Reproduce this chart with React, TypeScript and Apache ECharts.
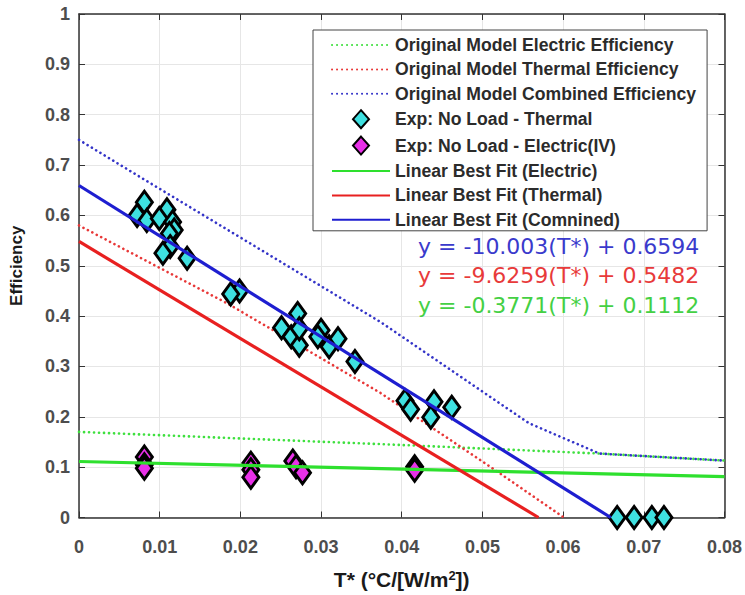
import React, { useEffect, useRef } from "react";
import * as echarts from "echarts";

const modelElectric: number[][] = [[0, 0.17], [0.04, 0.144], [0.0645, 0.127], [0.08, 0.113]];
const modelThermal: number[][] = [[0, 0.58], [0.0184, 0.425], [0.0374, 0.247], [0.0515, 0.095], [0.0601, 0]];
const modelCombined: number[][] = [[0, 0.75], [0.0077, 0.675], [0.0374, 0.388], [0.0523, 0.225], [0.0558, 0.187], [0.0645, 0.127], [0.08, 0.113]];

const expThermal: number[][] = [
  [0.0081, 0.626], [0.0072, 0.6], [0.0084, 0.59], [0.0109, 0.611], [0.00995, 0.594],
  [0.0116, 0.587], [0.0118, 0.571], [0.0112, 0.564], [0.0113, 0.538], [0.0104, 0.525],
  [0.0134, 0.515], [0.0199, 0.45], [0.0188, 0.444],
  [0.0271, 0.405], [0.0251, 0.377], [0.0263, 0.359], [0.0273, 0.342], [0.0273, 0.375],
  [0.03, 0.372], [0.0296, 0.359], [0.031, 0.339], [0.0321, 0.355], [0.0342, 0.31],
  [0.0404, 0.232], [0.0411, 0.215], [0.044, 0.23], [0.0436, 0.199], [0.0462, 0.219],
  [0.0667, 0], [0.0688, 0], [0.071, 0], [0.0725, 0],
];
const expElectric: number[][] = [
  [0.0081, 0.12], [0.0081, 0.105], [0.0081, 0.098],
  [0.0213, 0.108], [0.0213, 0.095], [0.0213, 0.08],
  [0.0265, 0.112], [0.0269, 0.101], [0.0277, 0.089],
  [0.0416, 0.101], [0.0416, 0.094],
];

const fitElectric: number[][] = [[0, 0.1112], [0.08, 0.0811]];
const fitThermal: number[][] = [[0, 0.5482], [0.05695, 0]];
const fitCombined: number[][] = [[0, 0.6594], [0.0659, 0]];

const equationTexts = [
  "y = -10.003(T*) + 0.6594",
  "y = -9.6259(T*) + 0.5482",
  "y = -0.3771(T*) + 0.1112",
];
const equationColors = ["#3a3acc", "#e83a3a", "#44d044"];

const names = [
  "Original Model Electric Efficiency",
  "Original Model Thermal Efficiency",
  "Original Model Combined Efficiency",
  "Exp: No Load - Thermal",
  "Exp: No Load - Electric(IV)",
  "Linear Best Fit (Electric)",
  "Linear Best Fit (Thermal)",
  "Linear Best Fit (Comnined)",
];

const FONT = "Liberation Sans, Arial, sans-serif";
const diamondIcon = "path://M0,0M58,18M29,0L37,9L29,18L21,9Z";

export default function App() {
  const ref = useRef<HTMLDivElement>(null);
  useEffect(() => {
    if (!ref.current) return;
    const chart = echarts.init(ref.current, undefined, { renderer: "svg" });
    const hidden = { color: "transparent", borderColor: "transparent", borderWidth: 0, opacity: 0 };
    const dotted = (name: string, data: number[][], color: string) => ({
      name, type: "line", data, symbol: "none", showSymbol: false,
      lineStyle: { color, width: 2.6, type: [0.1, 4.9], cap: "round" }, itemStyle: hidden, z: 2,
    });
    const solid = (name: string, data: number[][], color: string) => ({
      name, type: "line", data, symbol: "none", showSymbol: false,
      lineStyle: { color, width: 3.2 }, itemStyle: hidden, z: 4,
    });
    const scatter = (name: string, data: number[][], color: string) => ({
      name, type: "scatter", data, symbol: "diamond", symbolSize: [16, 22],
      itemStyle: { color, borderColor: "#000", borderWidth: 3, opacity: 1 }, z: 3,
    });
    const axisCommon = {
      axisLine: { show: true, onZero: false, lineStyle: { color: "#333", width: 1.5 } },
      axisTick: { show: true, inside: true, length: 6, lineStyle: { color: "#333", width: 1 } },
    };
    chart.setOption({
      animation: false,
      backgroundColor: "#fff",
      textStyle: { fontFamily: FONT },
      grid: { left: 78, right: 20, top: 14, bottom: 70, containLabel: false },
      xAxis: [
        {
          type: "value", min: 0, max: 0.08, interval: 0.01, position: "bottom",
          ...axisCommon,
          splitLine: { show: true, lineStyle: { color: "#e6e6e6", width: 1 } },
          axisLabel: {
            color: "#4d4d4d", fontWeight: "bold", fontSize: 18, fontFamily: FONT, margin: 20,
            formatter: (v: number) => String(Math.round(v * 100) / 100),
          },
          name: "{a|T* (°C/[W/m}{s|2}{a|])}",
          nameLocation: "middle", nameGap: 51,
          nameTextStyle: {
            rich: {
              a: { fontSize: 21, fontWeight: "bold", color: "#1a1a1a", fontFamily: FONT },
              s: { fontSize: 13, fontWeight: "bold", color: "#1a1a1a", fontFamily: FONT, verticalAlign: "top", padding: [0, 0, 9, 0] },
            },
          },
        },
        {
          type: "value", min: 0, max: 0.08, interval: 0.01, position: "top",
          ...axisCommon, splitLine: { show: false }, axisLabel: { show: false },
        },
      ],
      yAxis: [
        {
          type: "value", min: 0, max: 1, interval: 0.1, position: "left",
          ...axisCommon,
          splitLine: { show: true, lineStyle: { color: "#e6e6e6", width: 1 } },
          axisLabel: {
            color: "#4d4d4d", fontWeight: "bold", fontSize: 18, fontFamily: FONT, margin: 9,
            formatter: (v: number) => String(Math.round(v * 10) / 10),
          },
          name: "Efficiency", nameLocation: "middle", nameGap: 54, nameRotate: 90,
          nameTextStyle: { fontSize: 17, fontWeight: "bold", color: "#1a1a1a", fontFamily: FONT },
        },
        {
          type: "value", min: 0, max: 1, interval: 0.1, position: "right",
          ...axisCommon, splitLine: { show: false }, axisLabel: { show: false },
        },
      ],
      legend: {
        orient: "vertical", left: 313, top: 30,
        itemWidth: 58, itemHeight: 18, itemGap: 6.4,
        padding: [6, 11, 2, 18],
        backgroundColor: "#fff", borderColor: "#444", borderWidth: 1,
        textStyle: { fontSize: 17.6, fontWeight: "bold", color: "#2b2b2b", fontFamily: FONT },
        data: names.map((n, i) => (i === 3 || i === 4 ? { name: n, icon: diamondIcon } : { name: n })),
      },
      graphic: equationTexts.map((t, i) => ({
        type: "text", left: 418, top: 235 + i * 29.5, z: 10,
        style: { text: t, fill: equationColors[i], fontSize: 22, fontFamily: "DejaVu Sans, sans-serif" },
      })),
      series: [
        dotted(names[0], modelElectric, "#3ee03e"),
        dotted(names[1], modelThermal, "#e83838"),
        dotted(names[2], modelCombined, "#3434c8"),
        scatter(names[3], expThermal, "#3ee0e0"),
        scatter(names[4], expElectric, "#e830e8"),
        solid(names[5], fitElectric, "#2ee02e"),
        solid(names[6], fitThermal, "#e82020"),
        solid(names[7], fitCombined, "#1e1ed0"),
      ],
    });
    return () => chart.dispose();
  }, []);
  return <div ref={ref} style={{ position: "fixed", left: 0, top: 0, width: 745, height: 595 }} />;
}
